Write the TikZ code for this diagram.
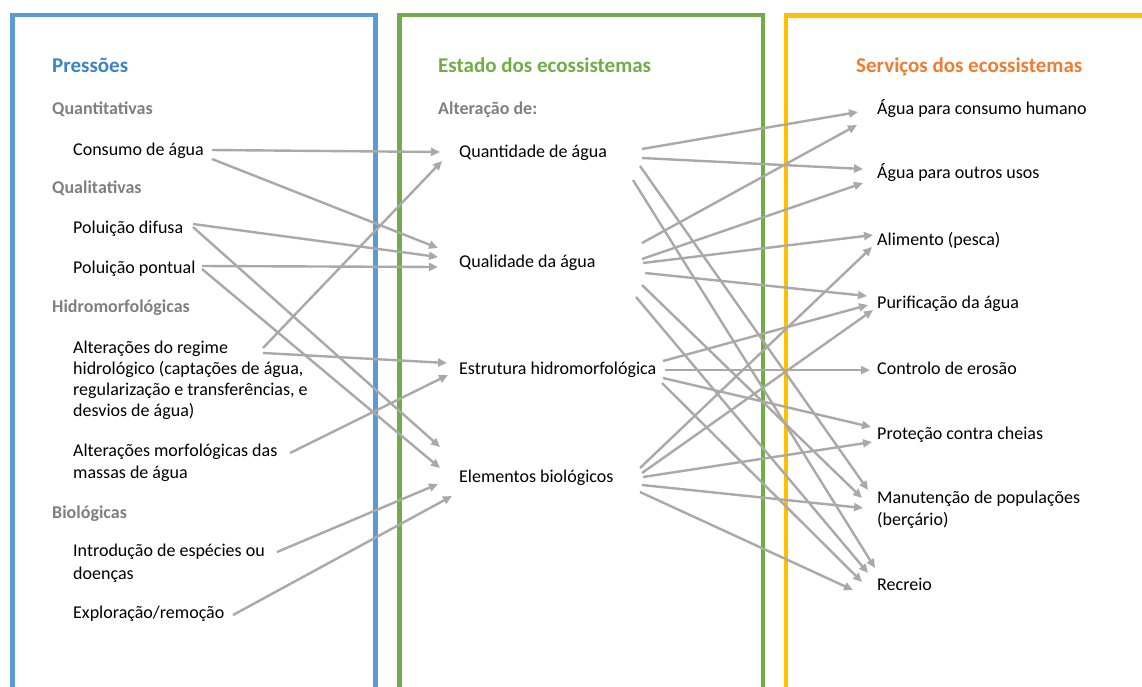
\documentclass[tikz,border=0pt]{standalone}
\usepackage{fontspec}
\setmainfont{Carlito}
\usetikzlibrary{arrows.meta}
\definecolor{pblue}{HTML}{5B9BD5}
\definecolor{pgreen}{HTML}{70AD47}
\definecolor{pgold}{HTML}{FFC000}
\definecolor{hblue}{HTML}{3C83C4}
\definecolor{hgreen}{HTML}{70AD47}
\definecolor{horange}{HTML}{ED7D31}
\definecolor{subgray}{HTML}{7F7F7F}
\definecolor{arrgray}{HTML}{ABA8A8}
\begin{document}
\begin{tikzpicture}[x=1pt,y=-1pt,
  txt/.style={anchor=base west, inner sep=0pt, font=\fontsize{18}{21.7}\selectfont, align=left},
  head/.style={anchor=base west, inner sep=0pt, font=\fontsize{21}{25}\selectfont\bfseries},
  sub/.style={anchor=base west, inner sep=0pt, font=\fontsize{18}{21.7}\selectfont\bfseries, text=subgray},
  arr/.style={draw=arrgray, line width=2.4pt, -{Triangle[length=9pt,width=8pt]}},
  frame/.style={line width=4.5pt}]
\useasboundingbox (0,0) rectangle (1142,686);
\clip (0,0) rectangle (1142,686);
\fill[white] (0,0) rectangle (1142,686);
% frames
\draw[frame, pblue] (12.5,700) -- (12.5,15) -- (375.5,15) -- (375.5,700);
\draw[frame, pgreen] (399.5,700) -- (399.5,15) -- (763,15) -- (763,700);
\draw[frame, pgold] (786,700) -- (786,15.5) -- (1160,15.5);
% left column (multi-line nodes are placed by the baseline of their last line)
\node[head, text=hblue] (pres) at (52,72) {Pressões};
\node[sub] (quant) at (52,114) {Quantitativas};
\node[txt] (cons) at (73,155) {Consumo de água};
\node[sub] (qualit) at (52,193) {Qualitativas};
\node[txt] (difu) at (73,233) {Poluição difusa};
\node[txt] (pont) at (73,273) {Poluição pontual};
\node[sub] (hidro) at (52,312) {Hidromorfológicas};
\node[txt, font=\fontsize{18}{21.1}\selectfont] (regi) at (73,416.6) {Alterações do regime\\hidrológico (captações de água,\\regularização e transferências, e\\desvios de água)};
\node[txt, font=\fontsize{18}{21.6}\selectfont] (morf) at (73,478.3) {Alterações morfológicas das\\massas de água};
\node[sub] (biol) at (52,518) {Biológicas};
\node[txt, font=\fontsize{18}{22.6}\selectfont] (intr) at (73,579.3) {Introdução de espécies ou\\doenças};
\node[txt] (expl) at (73,618) {Exploração/remoção};
% middle column
\node[head, text=hgreen] (estado) at (438,72) {Estado dos ecossistemas};
\node[sub] (alter) at (438,114) {Alteração de:};
\node[txt] (qtd) at (459,157) {Quantidade de água};
\node[txt] (qlt) at (459,267) {Qualidade da água};
\node[txt] (estr) at (459,374) {Estrutura hidromorfológica};
\node[txt] (elem) at (459,482) {Elementos biológicos};
% right column
\node[head, text=horange] (serv) at (856,72) {Serviços dos ecossistemas};
\node[txt] (hum) at (877,114) {Água para consumo humano};
\node[txt] (outr) at (877,178) {Água para outros usos};
\node[txt] (alim) at (877,245) {Alimento (pesca)};
\node[txt] (puri) at (877,308) {Purificação da água};
\node[txt] (ctrl) at (877,374) {Controlo de erosão};
\node[txt] (prot) at (877,439) {Proteção contra cheias};
\node[txt] (manu) at (877,525) {Manutenção de populações\\(berçário)};
\node[txt] (recr) at (877,590) {Recreio};
% pressures -> state
\draw[arr] ([shift={(139,-5)}]cons.base west) -- ([shift={(-19,-5)}]qtd.base west);
\draw[arr] ([shift={(139,4)}]cons.base west) -- ([shift={(-21,-19)}]qlt.base west);
\draw[arr] ([shift={(120,-9)}]difu.base west) -- ([shift={(-21,-10)}]qlt.base west);
\draw[arr] ([shift={(120,-6)}]difu.base west) -- ([shift={(-19,-35)}]elem.base west);
\draw[arr] ([shift={(129,-7)}]pont.base west) -- ([shift={(-21,0)}]qlt.base west);
\draw[arr] ([shift={(129,-4)}]pont.base west) -- ([shift={(-19,-14)}]elem.base west);
\draw[arr] ([shift={(190,-68.6)}]regi.base west) -- ([shift={(-17,4)}]qtd.base west);
\draw[arr] ([shift={(190,-63.6)}]regi.base west) -- ([shift={(-12,-11)}]estr.base west);
\draw[arr] ([shift={(217,-25.3)}]morf.base west) -- ([shift={(-11,1)}]estr.base west);
\draw[arr] ([shift={(204,-27.3)}]intr.base west) -- ([shift={(-21,2)}]elem.base west);
\draw[arr] ([shift={(160,-3)}]expl.base west) -- ([shift={(-7,14)}]elem.base west);
% state -> services
\draw[arr] ([shift={(183,-8)}]qtd.base west) -- ([shift={(-19,-2)}]hum.base west);
\draw[arr] ([shift={(183,1)}]qtd.base west) -- ([shift={(-14,-9)}]outr.base west);
\draw[arr] ([shift={(181,9)}]qtd.base west) -- ([shift={(-9,-35)}]manu.base west);
\draw[arr] ([shift={(174,23)}]qtd.base west) -- ([shift={(-2,-22)}]recr.base west);
\draw[arr] ([shift={(183,-24)}]qlt.base west) -- ([shift={(-20,11)}]hum.base west);
\draw[arr] ([shift={(183,-8)}]qlt.base west) -- ([shift={(-14,5)}]outr.base west);
\draw[arr] ([shift={(184,-4)}]qlt.base west) -- ([shift={(-4,-10)}]alim.base west);
\draw[arr] ([shift={(186,6)}]qlt.base west) -- ([shift={(-10,-12)}]puri.base west);
\draw[arr] ([shift={(183,18)}]qlt.base west) -- ([shift={(-15,-27)}]manu.base west);
\draw[arr] ([shift={(177,30)}]qlt.base west) -- ([shift={(-9,-17)}]recr.base west);
\draw[arr] ([shift={(204,-13)}]estr.base west) -- ([shift={(-9,-3)}]puri.base west);
\draw[arr] ([shift={(206,-4)}]estr.base west) -- ([shift={(-7,-4)}]ctrl.base west);
\draw[arr] ([shift={(204,4)}]estr.base west) -- ([shift={(-6,-12)}]prot.base west);
\draw[arr] ([shift={(203,9)}]estr.base west) -- ([shift={(-15,-8)}]recr.base west);
\draw[arr] ([shift={(181,-14)}]elem.base west) -- ([shift={(-5,2)}]alim.base west);
\draw[arr] ([shift={(183,-9)}]elem.base west) -- ([shift={(-4,2)}]puri.base west);
\draw[arr] ([shift={(184,-5)}]elem.base west) -- ([shift={(-5,3)}]prot.base west);
\draw[arr] ([shift={(183,3)}]elem.base west) -- ([shift={(-14,-17)}]manu.base west);
\draw[arr] ([shift={(181,10)}]elem.base west) -- ([shift={(-24,0)}]recr.base west);
\end{tikzpicture}
\end{document}
